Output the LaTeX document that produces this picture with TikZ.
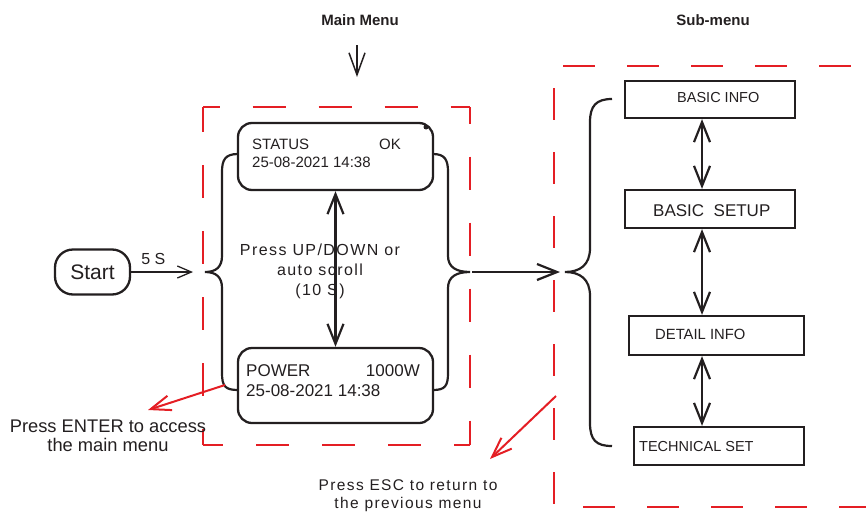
\documentclass[tikz,border=0pt]{standalone}
\usepackage{fontspec}
\setmainfont{Liberation Sans}
\newfontfamily\spacedfont{Liberation Sans}[LetterSpace=9]
\usetikzlibrary{arrows.meta}
\definecolor{ink}{RGB}{35,31,32}
\definecolor{mred}{RGB}{228,30,36}
\tikzset{
  txt/.style={inner sep=0,text=ink},
  lcd/.style={draw=ink,line width=2.3,rounded corners=14,minimum width=195},
  subbox/.style={draw=ink,line width=2.3,minimum width=170,minimum height=38},
  curly/.style={draw=ink,line width=2.2},
  menuframe/.style={draw=mred,line width=2.2,dash pattern=on 33pt off 33pt,dash phase=16.5pt},
  subframe/.style={draw=mred,line width=2.2,dash pattern=on 32pt off 32pt},
  dbl/.style={draw=ink,line width=2.2,{Straight Barb[length=20pt,width=16pt]}-{Straight Barb[length=20pt,width=16pt]}},
  onearrow/.style={draw=ink,line width=2.2,-{Straight Barb[length=20pt,width=16pt]}},
  thinarrow/.style={draw=ink,line width=1.3,-{Straight Barb[length=14pt,width=12pt]}},
  redarrow/.style={draw=mred,line width=2,-{Straight Barb[length=20pt,width=15pt]}}
}
\begin{document}
\begin{tikzpicture}[x=1pt,y=-1pt]
\useasboundingbox (0,0) rectangle (866,514);
\node[txt,font=\bfseries\fontsize{15}{18}\selectfont] (mainTitle) at (360,20) {Main Menu};
\node[txt,font=\bfseries\fontsize{15}{18}\selectfont] (subTitle) at (713,20) {Sub-menu};
\coordinate (mmTop) at (357,45);
\coordinate (mmIn) at (357,77);
\draw[draw=ink,line width=1.5,-{Straight Barb[length=22pt,width=16pt]}] (mmTop) -- (mmIn);
\draw[menuframe] (203,107) -- (470,107) (470,107) -- (470,445) (470,445) -- (203,445) (203,445) -- (203,107);
\draw[subframe,dash phase=55pt] (554,66) -- (866,66);
\draw[subframe,dash phase=42pt] (554,66) -- (554,507);
\draw[subframe,dash phase=35pt] (554,507) -- (866,507);
\node[lcd,minimum height=67] (status) at (335.5,156.5) {};
\fill[ink] (426,127) circle (2.5);
\node[txt,anchor=base west,font=\fontsize{15}{18}\selectfont] (statusName) at (252,149) {STATUS};
\node[txt,anchor=base east,font=\fontsize{15}{18}\selectfont] (statusValue) at (401,149) {OK};
\node[txt,anchor=base west,font=\fontsize{15}{18}\selectfont] (statusDate) at (252,167) {25-08-2021 14:38};
\node[lcd,minimum height=75] (power) at (335.5,385.5) {};
\node[txt,anchor=base west,font=\fontsize{17}{20}\selectfont] (powerName) at (246,376) {POWER};
\node[txt,anchor=base east,font=\fontsize{17}{20}\selectfont] (powerValue) at (420,376) {1000W};
\node[txt,anchor=base west,font=\fontsize{17}{20}\selectfont] (powerDate) at (246,396) {25-08-2021 14:38};
\node[txt,align=center,font=\spacedfont\fontsize{16}{20}\selectfont] (scroll) at (320,271) {Press UP/DOWN or\\auto scroll\\(10 S)};
\draw[dbl] (status) -- (power);
\node[draw=ink,line width=2.3,rounded corners=18,minimum width=75,minimum height=45,txt,font=\fontsize{21}{24}\selectfont] (start) at (92.5,272) {Start};
\coordinate (mainL) at (205,272);
\coordinate (mainR) at (470,272);
\coordinate (subL) at (565,272);
\draw[curly] (238,154) .. controls (225,154) and (222,160) .. (222,172) -- (222,256) .. controls (222,267) and (216,272) .. (mainL) .. controls (216,272) and (222,277) .. (222,288) -- (222,373) .. controls (222,386) and (225,390) .. (238,390);
\draw[curly] (433,154) .. controls (445,154) and (448,160) .. (448,172) -- (448,256) .. controls (448,267) and (456,272) .. (mainR) .. controls (456,272) and (448,277) .. (448,288) -- (448,373) .. controls (448,386) and (445,390) .. (433,390);
\draw[curly] (612,99) .. controls (596,99) and (590,106) .. (590,122) -- (590,248) .. controls (590,265) and (580,272) .. (subL) .. controls (580,272) and (590,279) .. (590,296) -- (590,423) .. controls (590,440) and (596,446) .. (612,446);
\draw[thinarrow,shorten >=12pt] (start) -- node[txt,pos=0.3,above=7pt,font=\fontsize{16}{18}\selectfont] {5 S} (mainL);
\draw[onearrow,shorten <=2pt,shorten >=5pt] (mainR) -- (subL);
\node[subbox,minimum height=37] (info) at (710,99.5) {};
\node[subbox] (setup) at (710,209) {};
\node[subbox,minimum width=175,minimum height=39] (detail) at (716.5,335.5) {};
\node[subbox] (tech) at (719,446) {};
\node[txt,anchor=base west,font=\fontsize{14.5}{17}\selectfont] (infoText) at (677,102) {BASIC INFO};
\node[txt,anchor=base west,font=\fontsize{17}{20}\selectfont] (setupText) at (653,216) {BASIC\ \ SETUP};
\node[txt,anchor=base west,font=\fontsize{14.8}{17}\selectfont] (detailText) at (655,339) {DETAIL INFO};
\node[txt,anchor=base west,font=\fontsize{14.5}{17}\selectfont] (techText) at (639,451) {TECHNICAL SET};
\coordinate (axis) at (702,0);
\draw[dbl] (info.south -| axis) -- (setup.north -| axis);
\draw[dbl] (setup.south -| axis) -- (detail.north -| axis);
\draw[dbl] (detail.south -| axis) -- (tech.north -| axis);
\coordinate (enterFrom) at (225,385);
\coordinate (enterTo) at (148,410);
\draw[redarrow] (enterFrom) -- (enterTo);
\node[txt,align=center,font=\fontsize{18.3}{19}\selectfont] (enterText) at (108,436) {Press ENTER to access\\the main menu};
\coordinate (escFrom) at (556,396);
\coordinate (escTo) at (490,459);
\draw[redarrow] (escFrom) -- (escTo);
\node[txt,align=center,font=\spacedfont\fontsize{15.5}{18}\selectfont] (escText) at (408,496) {Press ESC to return to\\the previous menu};
\end{tikzpicture}
\end{document}
